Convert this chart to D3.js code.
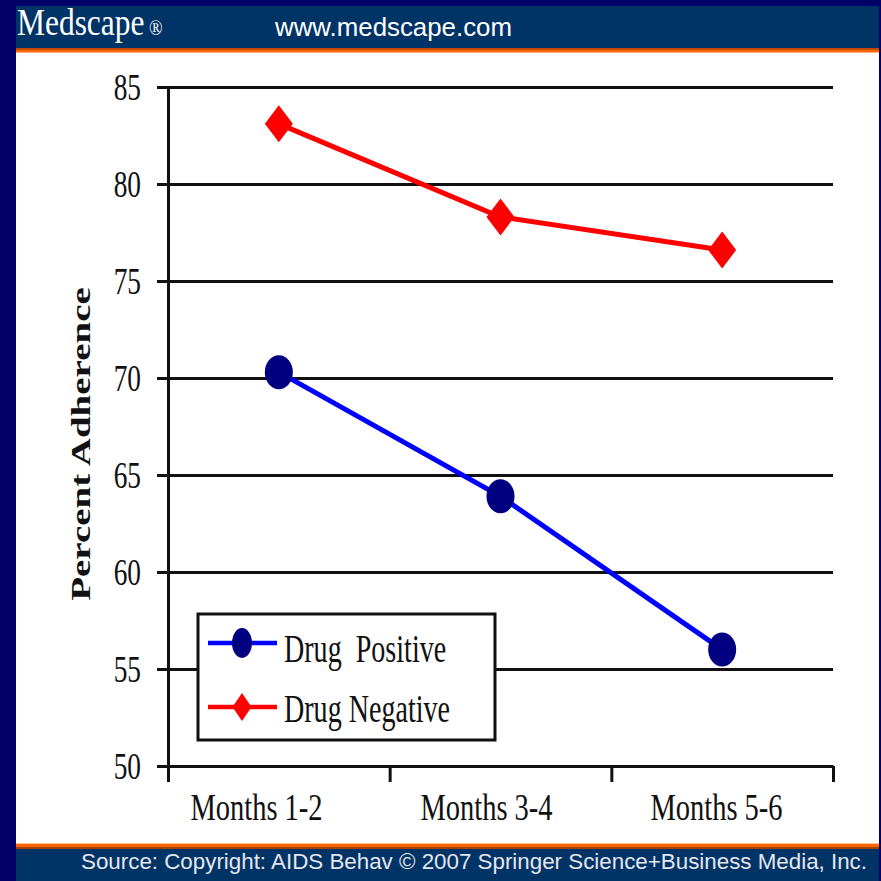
<!DOCTYPE html>
<html>
<head>
<meta charset="utf-8">
<script src="https://cdn.jsdelivr.net/npm/d3@7"></script>
<style>
  body { margin: 0; background: #000066; }
  svg { display: block; }
</style>
</head>
<body>
<script>
var outerWidth = 881;
var outerHeight = 881;

// chart values
var categories = ['Months 1-2', 'Months 3-4', 'Months 5-6'];
var drugPositive = [70.3, 63.9, 56.0];
var drugNegative = [83.1, 78.3, 76.6];
var yTicks = [50, 55, 60, 65, 70, 75, 80, 85];
var seriesNames = ['Drug  Positive', 'Drug Negative'];

// the source picture is squeezed sideways, so text gets a narrow x scale
var squeeze = 0.72;
var serif = '"Liberation Serif", "Times New Roman", serif';
var sans = '"Liberation Sans", Arial, sans-serif';

var svg = d3.select('body').append('svg')
  .attr('width', outerWidth)
  .attr('height', outerHeight);

// frame: navy border, header band, orange rules, footer band
svg.append('rect').attr('width', outerWidth).attr('height', outerHeight).attr('fill', '#000066');
svg.append('rect').attr('x', 16).attr('y', 6).attr('width', 863).attr('height', 42).attr('fill', '#003366');
svg.append('rect').attr('x', 16).attr('y', 48).attr('width', 863).attr('height', 2).attr('fill', '#c84800');
svg.append('rect').attr('x', 16).attr('y', 50).attr('width', 863).attr('height', 2).attr('fill', '#ff6600');
svg.append('rect').attr('x', 16).attr('y', 52).attr('width', 863).attr('height', 1).attr('fill', '#ffb27a');
svg.append('rect').attr('x', 16).attr('y', 53).attr('width', 863).attr('height', 790).attr('fill', '#ffffff');
svg.append('rect').attr('x', 16).attr('y', 843).attr('width', 863).attr('height', 1).attr('fill', '#ffc59a');
svg.append('rect').attr('x', 16).attr('y', 844).attr('width', 863).attr('height', 3).attr('fill', '#ff6600');
svg.append('rect').attr('x', 16).attr('y', 847).attr('width', 863).attr('height', 2).attr('fill', '#a84000');
svg.append('rect').attr('x', 16).attr('y', 849).attr('width', 863).attr('height', 32).attr('fill', '#003366');

svg.append('text')
  .attr('transform', 'translate(17,35) scale(0.85,1)')
  .style('font-family', serif).style('font-size', '37px')
  .attr('fill', '#ffffff')
  .text('Medscape');

svg.append('text')
  .attr('transform', 'translate(149,35) scale(0.85,1)')
  .style('font-family', serif).style('font-size', '21px')
  .attr('fill', '#ffffff')
  .text('\u00ae');

svg.append('text')
  .attr('x', 275).attr('y', 36)
  .attr('textLength', 237).attr('lengthAdjust', 'spacingAndGlyphs')
  .style('font-family', sans).style('font-size', '25px')
  .attr('fill', '#ffffff')
  .text('www.medscape.com');

svg.append('text')
  .attr('x', 81).attr('y', 869)
  .attr('textLength', 786).attr('lengthAdjust', 'spacingAndGlyphs')
  .style('font-family', sans).style('font-size', '22px')
  .attr('fill', '#e6e6ee')
  .text('Source: Copyright: AIDS Behav \u00a9 2007 Springer Science+Business Media, Inc.');

// scales
var plotLeft = 168, plotRight = 833, plotTop = 87, plotBottom = 766;

var y = d3.scaleLinear().domain([50, 85]).range([plotBottom, plotTop]);
var x = d3.scaleBand().domain(categories).range([plotLeft, plotRight]);
var xEdge = d3.scaleLinear().domain([0, categories.length]).range([plotLeft, plotRight]);
// the category labels in the source sit a little left of the band centres
var xLabel = d3.scalePoint().domain(categories).range([256, 716]);

// gridlines + y tick labels
var grid = svg.append('g')
  .attr('transform', 'translate(157,0)')
  .call(d3.axisLeft(y).tickValues(yTicks).tickSize(-(plotRight - 157)).tickPadding(16));
grid.select('.domain').remove();
grid.selectAll('.tick line').attr('stroke', '#111').attr('stroke-width', 3);
grid.selectAll('.tick text')
  .attr('x', null).attr('dy', '0.34em')
  .attr('transform', 'translate(-16,0) scale(' + squeeze + ',1)')
  .style('font-family', serif).style('font-size', '38px')
  .attr('fill', '#111');

// y axis line
var yAxis = svg.append('g')
  .attr('transform', 'translate(' + plotLeft + ',0)')
  .call(d3.axisLeft(y).tickValues([]).tickSizeOuter(0));
yAxis.select('.domain').attr('stroke', '#111').attr('stroke-width', 3);

// x axis ticks sit on the category edges
var xTicks = svg.append('g')
  .attr('transform', 'translate(0,' + plotBottom + ')')
  .call(d3.axisBottom(xEdge).tickValues(d3.range(categories.length + 1)).tickSize(16).tickSizeOuter(0).tickFormat(''));
xTicks.select('.domain').attr('stroke', '#111').attr('stroke-width', 3);
xTicks.selectAll('.tick line').attr('stroke', '#111').attr('stroke-width', 3);

// category labels
var xLabels = svg.append('g')
  .attr('transform', 'translate(0,' + plotBottom + ')')
  .call(d3.axisBottom(xLabel).tickSize(0));
xLabels.select('.domain').remove();
xLabels.selectAll('.tick text')
  .attr('y', null).attr('dy', null)
  .attr('transform', 'translate(0,54) scale(0.75,1)')
  .style('font-family', serif).style('font-size', '38px')
  .attr('fill', '#111');

// y title
svg.append('text')
  .attr('transform', 'translate(90,444) scale(' + squeeze + ',1) rotate(-90)')
  .attr('text-anchor', 'middle')
  .style('font-family', serif).style('font-size', '39px').style('font-weight', 'bold')
  .attr('fill', '#111')
  .text('Percent Adherence');

// lines
var line = d3.line()
  .x(function(d, i){ return x(categories[i]) + x.bandwidth() / 2; })
  .y(function(d){ return y(d); });

svg.append('path').datum(drugPositive)
  .attr('d', line).attr('fill', 'none')
  .attr('stroke', '#0000ff').attr('stroke-width', 5);

svg.append('path').datum(drugNegative)
  .attr('d', line).attr('fill', 'none')
  .attr('stroke', '#ff0000').attr('stroke-width', 5);

function diamond(hw, hh){
  return 'M0,' + (-hh) + 'L' + hw + ',0L0,' + hh + 'L' + (-hw) + ',0Z';
}

svg.selectAll('.dot-pos').data(drugPositive).enter()
  .append('ellipse').attr('class', 'dot-pos')
  .attr('cx', function(d, i){ return x(categories[i]) + x.bandwidth() / 2; })
  .attr('cy', function(d){ return y(d); })
  .attr('rx', 14).attr('ry', 17)
  .attr('fill', '#000080');

svg.selectAll('.dot-neg').data(drugNegative).enter()
  .append('path').attr('class', 'dot-neg')
  .attr('transform', function(d, i){
    return 'translate(' + (x(categories[i]) + x.bandwidth() / 2) + ',' + y(d) + ')';
  })
  .attr('d', diamond(14, 18.5))
  .attr('fill', '#ff0000');

// legend
var legend = svg.append('g');
legend.append('rect')
  .attr('x', 198).attr('y', 614).attr('width', 297).attr('height', 126)
  .attr('fill', '#ffffff').attr('stroke', '#111').attr('stroke-width', 3);

var legendRows = [
  {name: seriesNames[0], color: '#0000ff', y: 643, text: 662},
  {name: seriesNames[1], color: '#ff0000', y: 707, text: 722}
];

legendRows.forEach(function(r, i){
  legend.append('line')
    .attr('x1', 208).attr('x2', 277).attr('y1', r.y).attr('y2', r.y)
    .attr('stroke', r.color).attr('stroke-width', 4.5);
  if (i === 0){
    legend.append('ellipse')
      .attr('cx', 242).attr('cy', r.y).attr('rx', 10).attr('ry', 15)
      .attr('fill', '#000080');
  } else {
    legend.append('path')
      .attr('transform', 'translate(242,' + r.y + ')')
      .attr('d', diamond(9.5, 14))
      .attr('fill', '#ff0000');
  }
  legend.append('text')
    .attr('transform', 'translate(284,' + r.text + ') scale(' + squeeze + ',1)')
    .style('font-family', serif).style('font-size', '39px')
    .style('white-space', 'pre')
    .attr('fill', '#111')
    .text(r.name);
});
</script>
</body>
</html>
